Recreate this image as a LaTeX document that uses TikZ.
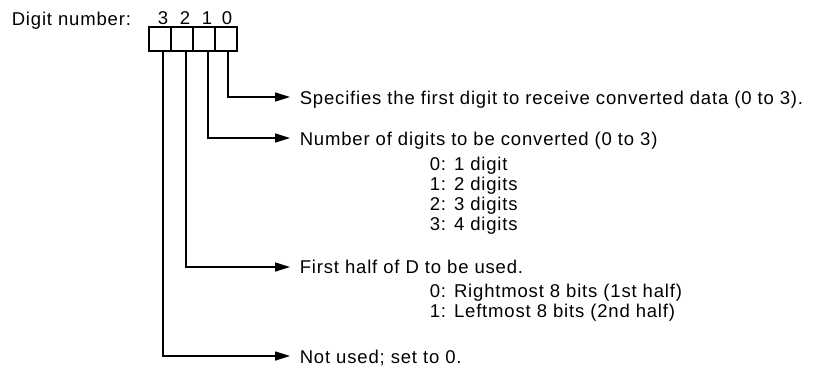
\documentclass[tikz,border=0pt]{standalone}
\usepackage{fontspec}
\setmainfont{Liberation Sans}[LetterSpace=4.5]
\usetikzlibrary{arrows.meta}
\begin{document}
\begin{tikzpicture}[x=1pt,y=-1pt,line width=1.6pt,
  lbl/.style={inner sep=0pt, anchor=base west, font=\fontsize{18.5}{20}\selectfont},
  dig/.style={inner sep=0pt, anchor=base, font=\fontsize{18.5}{20}\selectfont},
  bitbox/.style={draw, minimum width=22pt, minimum height=24pt, inner sep=0pt, line width=1.6pt},
  arr/.style={-{Triangle[length=15pt,width=9pt]}}]
\useasboundingbox (0,0) rectangle (831,368);
% boxes
\node[bitbox] (b3) at (160,39) {};
\node[bitbox] (b2) at (182,39) {};
\node[bitbox] (b1) at (204,39) {};
\node[bitbox] (b0) at (226,39) {};
% labels
\node[lbl] (dn) at (11,25) {Digit number:};
\node[dig] (d3) at (163,24) {3};
\node[dig] (d2) at (185,24) {2};
\node[dig] (d1) at (207,24) {1};
\node[dig] (d0) at (227,24) {0};
% texts
\node[lbl] (t0) at (299,104) {Specifies the first digit to receive converted data (0 to 3).};
\node[lbl] (t1) at (299,145) {Number of digits to be converted (0 to 3)};
\node[lbl] (s10) at (429,170) {0: 1 digit};
\node[lbl] (s11) at (429,190) {1: 2 digits};
\node[lbl] (s12) at (429,210) {2: 3 digits};
\node[lbl] (s13) at (429,230) {3: 4 digits};
\node[lbl] (t2) at (299,273) {First half of D to be used.};
\node[lbl] (s20) at (429,297) {0: Rightmost 8 bits (1st half)};
\node[lbl] (s21) at (429,317) {1: Leftmost 8 bits (2nd half)};
\node[lbl] (t3) at (299,363) {Not used; set to 0.};
% arrow ends
\coordinate (e0) at (290,97);
\coordinate (e1) at (290,138);
\coordinate (e2) at (290,267);
\coordinate (e3) at (290,356);
% connectors
\draw[arr] ([xshift=2pt]b0.south) |- (e0);
\draw[arr] ([xshift=4pt]b1.south) |- (e1);
\draw[arr] ([xshift=4pt]b2.south) |- (e2);
\draw[arr] ([xshift=3pt]b3.south) |- (e3);
\end{tikzpicture}
\end{document}
